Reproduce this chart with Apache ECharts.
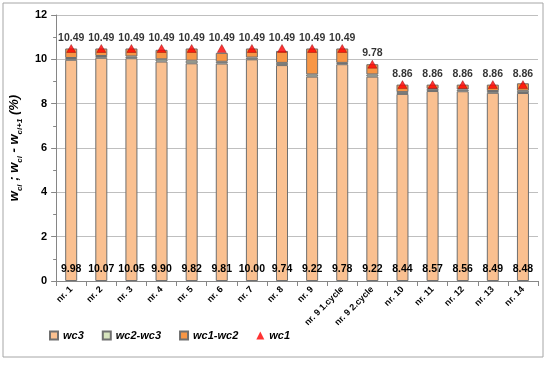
<!DOCTYPE html>
<html><head><meta charset="utf-8">
<script src="https://cdn.jsdelivr.net/npm/echarts@6/dist/echarts.min.js"></script>
<style>html,body{margin:0;padding:0;background:#fff}#c{width:550px;height:366px}</style>
</head><body><div id="c"></div>
<script>
const categories = ['nr. 1','nr. 2','nr. 3','nr. 4','nr. 5','nr. 6','nr. 7','nr. 8','nr. 9','nr. 9 1.cycle','nr. 9 2.cycle','nr. 10','nr. 11','nr. 12','nr. 13','nr. 14'];
const wc3 = [9.98,10.07,10.05,9.90,9.82,9.81,10.00,9.74,9.22,9.78,9.22,8.44,8.57,8.56,8.49,8.48];
const wc2_wc3 = [0.08,0.08,0.08,0.10,0.12,0.08,0.08,0.10,0.10,0.06,0.10,0.08,0.10,0.08,0.08,0.10];
const wc1_wc2 = [0.43,0.34,0.36,0.43,0.55,0.40,0.41,0.54,1.17,0.65,0.46,0.34,0.19,0.22,0.29,0.34];
const wc1 = [10.49,10.49,10.49,10.49,10.49,10.49,10.49,10.49,10.49,10.49,9.78,8.86,8.86,8.86,8.86,8.86];
const yTicks = [0,2,4,6,8,10,12];

const font = '"Liberation Sans", Arial, sans-serif';
const chart = echarts.init(document.getElementById('c'));
const barBorder = {borderColor:'#6f6f6f', borderWidth:1};
chart.setOption({
  animation:false,
  textStyle:{fontFamily:font},
  graphic:[{type:'rect', shape:{x:3,y:3,width:540,height:354}, style:{fill:null, stroke:'#a6a6a6', lineWidth:1}, silent:true}],
  grid:{left:45, right:12, top:15, bottom:85},
  legend:{
    bottom:20, left:44, itemWidth:8, itemHeight:8, itemGap:18,
    textStyle:{fontFamily:font, fontSize:11, fontWeight:'bold', fontStyle:'italic', color:'#000'},
    data:[
      {name:'wc3', icon:'rect'},
      {name:'wc2-wc3', icon:'rect'},
      {name:'wc1-wc2', icon:'rect'},
      {name:'wc1', icon:'triangle', itemStyle:{color:'#ff0000', borderWidth:0}}
    ]
  },
  xAxis:{
    type:'category', data:categories,
    axisLine:{lineStyle:{color:'#868686'}},
    axisTick:{show:true, alignWithLabel:false, lineStyle:{color:'#868686'}},
    axisLabel:{rotate:45, interval:0, fontSize:9, fontWeight:'bold', color:'#000', fontFamily:font, margin:7}
  },
  yAxis:{
    type:'value', min:yTicks[0], max:yTicks[yTicks.length-1], interval:2,
    name:'{w|w}{s|ci}{w| ; w}{s|ci}{w| - w}{s|ci+1}{w| (%)}',
    nameLocation:'middle', nameGap:21, nameRotate:90,
    nameTextStyle:{rich:{
      w:{fontSize:13, fontWeight:'bold', fontStyle:'italic', color:'#000', fontFamily:font, verticalAlign:'bottom'},
      s:{fontSize:8, fontWeight:'bold', fontStyle:'italic', color:'#000', fontFamily:font, verticalAlign:'bottom', padding:[0,0,-3,0]}
    }},
    axisLine:{show:true, lineStyle:{color:'#868686'}},
    axisTick:{show:true, lineStyle:{color:'#868686'}},
    minorTick:{show:true, splitNumber:2, length:3, lineStyle:{color:'#868686'}},
    splitLine:{lineStyle:{color:'#bfbfbf'}},
    axisLabel:{fontSize:11, fontWeight:'bold', color:'#000', fontFamily:font, margin:9}
  },
  series:[
    {name:'wc3', type:'bar', stack:'a', data:wc3, barWidth:12,
     itemStyle:Object.assign({color:'#fac090'}, barBorder),
     label:{show:true, position:'insideBottom', distance:6, formatter:p=>p.value.toFixed(2), fontSize:10.5, fontWeight:'bold', color:'#000', fontFamily:font}},
    {name:'wc2-wc3', type:'bar', stack:'a', data:wc2_wc3, barWidth:12,
     itemStyle:Object.assign({color:'#d7e4bd'}, barBorder)},
    {name:'wc1-wc2', type:'bar', stack:'a', data:wc1_wc2, barWidth:12,
     itemStyle:Object.assign({color:'#f79646'}, barBorder)},
    {name:'wc1', type:'scatter', data:wc1, symbol:'triangle', symbolSize:[9,8],
     itemStyle:{color:'#ff0000', borderColor:'#7f0000', borderWidth:0.5},
     label:{show:true, position:'top', distance:1, formatter:p=>p.value.toFixed(2), fontSize:10.5, fontWeight:'bold', color:'#000', fontFamily:font}}
  ]
});
</script></body></html>
